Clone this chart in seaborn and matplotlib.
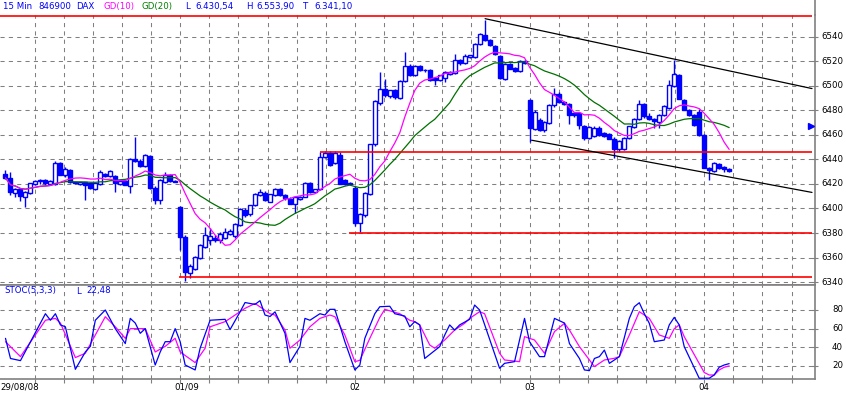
import numpy as np
import pandas as pd
import matplotlib
matplotlib.use("Agg")
import matplotlib.pyplot as plt
from matplotlib.lines import Line2D
import seaborn as sns

# ---------------- data (15-min DAX bars) ----------------
opens = [
    6428.5, 6425, 6413, 6415.5, 6409.5, 6413, 6420, 6422.5, 6423, 6420,
    6419.6, 6437.5, 6427.2, 6431.3, 6421.2, 6419.6, 6421.2, 6420.4, 6415.8, 6419.6,
    6428.5, 6426.6, 6426.4, 6419.6, 6422.6, 6418.5, 6440, 6438.9, 6434.5, 6442.7,
    6416.9, 6406.8, 6421.8, 6427.2, 6422.6,
    6401.3, 6377, 6347, 6351, 6360, 6368.7, 6374.2, 6376.3, 6374.7, 6376,
    6379, 6377.6, 6386.4, 6398.6, 6395.4, 6402.7, 6410.8, 6413, 6405.4, 6410.8,
    6415.5, 6410.8, 6408, 6403.5, 6408, 6409.5, 6420.9, 6413.6, 6415.5, 6442,
    6445.3, 6437, 6443.4, 6423, 6420.3,
    6417.1, 6388.3, 6394.5, 6412.2, 6452.4, 6486.0, 6497.2, 6491.5, 6496.4, 6490.4,
    6504.0, 6516.2, 6508.6, 6516.2, 6512.7, 6512.7, 6506.7, 6505.1, 6506.7, 6510.0,
    6510.5, 6520.8, 6518.6, 6523.5, 6523.5, 6533.8, 6541.2, 6537.1, 6532.2, 6524.1,
    6505.9, 6518.1, 6514.8, 6512.1, 6520.3,
    6488.3, 6465.2, 6472.5, 6463.8, 6469.8, 6484.2, 6493.1, 6486.9, 6485.5, 6477.9,
    6477.9, 6467.1, 6457.8, 6459.0, 6466.0, 6461.6, 6460.6, 6457.0, 6448.9, 6448.9,
    6457.8, 6466.5, 6473.3, 6485.5, 6475.2, 6473.3, 6470.6, 6476.0, 6482.3, 6499.7,
    6508.6, 6488.8, 6480.1, 6476.0, 6478.8,
    6459.7, 6433.4, 6430.7, 6436.1, 6433.9, 6431.8,
]
highs = [
    6431, 6430, 6417, 6417, 6414, 6421, 6423, 6424, 6424, 6423,
    6438.5, 6438, 6434, 6432, 6422, 6422, 6422, 6421, 6421, 6431,
    6429, 6431, 6427, 6423, 6423, 6441, 6458, 6440, 6444.5, 6444,
    6418, 6424, 6430, 6428, 6423,
    6402, 6378, 6355, 6361, 6371, 6385, 6384, 6378, 6381, 6384,
    6383.6, 6388, 6400, 6400, 6403, 6413, 6416, 6414, 6412, 6417,
    6417, 6412, 6409, 6409, 6410.5, 6421.5, 6422, 6416, 6446, 6447,
    6447, 6447, 6446, 6424, 6422,
    6418, 6396, 6413.5, 6453, 6488.5, 6511.3, 6505.9, 6497, 6497.5, 6505,
    6527.6, 6518, 6517, 6517, 6514, 6513.5, 6507.5, 6509, 6512, 6512,
    6526, 6522, 6526, 6525, 6535, 6543, 6553.9, 6538, 6533, 6525,
    6519, 6519, 6515.5, 6521, 6521,
    6489, 6480, 6474, 6471.5, 6485, 6498.6, 6495, 6488, 6486, 6478.5,
    6478.5, 6468, 6467.5, 6467, 6467, 6462.5, 6461.5, 6458, 6456, 6458.5,
    6467.5, 6474, 6488.3, 6486, 6478, 6474, 6477, 6484, 6504.6, 6521.4,
    6510, 6489.5, 6481, 6477, 6481.5,
    6460.5, 6434, 6438, 6437, 6434.5, 6433,
]
lows = [
    6424, 6411, 6409.5, 6406.5, 6401.5, 6412, 6419, 6420, 6419.5, 6419,
    6419, 6427, 6426, 6420.5, 6420, 6419, 6406.8, 6416, 6415, 6419,
    6425.5, 6426, 6413.6, 6419, 6419, 6413, 6438, 6434, 6434, 6416,
    6404, 6404, 6421, 6422, 6421.5,
    6366, 6341.1, 6343, 6350, 6359, 6368, 6370, 6373, 6372, 6375,
    6378, 6376, 6386, 6393, 6394, 6402, 6410, 6406, 6405, 6410,
    6410, 6407, 6403.5, 6396, 6407, 6409, 6413, 6413, 6415, 6441,
    6435, 6436, 6420, 6419.5, 6419.5,
    6386, 6380.5, 6393, 6411, 6451, 6484.5, 6491, 6490, 6489.5, 6489.5,
    6503, 6508, 6508, 6512, 6511, 6504, 6500.5, 6504, 6503, 6509,
    6510, 6517, 6518, 6522.5, 6523, 6533, 6537, 6532.5, 6525.5, 6506,
    6505, 6513.5, 6511.5, 6511.5, 6518,
    6454.3, 6464, 6463, 6462, 6469, 6483, 6486, 6484.5, 6468.7, 6475,
    6465, 6456, 6457, 6458, 6459, 6458.5, 6456.5, 6441.5, 6446, 6448,
    6457, 6466, 6472.5, 6474, 6472.5, 6466, 6466, 6475.5, 6481.5, 6499,
    6489, 6480, 6475.5, 6467.5, 6459,
    6433, 6423, 6430, 6432.5, 6430, 6430,
]
closes = [
    6425, 6413.6, 6416.3, 6410.3, 6413.6, 6420.4, 6422.5, 6423, 6420.4, 6422.6,
    6437.5, 6427.7, 6431.8, 6421.2, 6421, 6421.8, 6419.1, 6417.1, 6420.4, 6429.4,
    6426.4, 6430.7, 6420.4, 6422.6, 6419.1, 6440, 6438.9, 6434.5, 6443.5, 6416.9,
    6406.8, 6423.5, 6427.7, 6422.6, 6422,
    6377, 6348.4, 6353, 6360.6, 6370.6, 6378, 6377.4, 6374.2, 6379.6, 6381,
    6381.5, 6387.2, 6399.2, 6394.5, 6402.7, 6412.2, 6413.6, 6407, 6411.6, 6416.3,
    6410.8, 6408.5, 6404, 6409, 6409.5, 6420.9, 6413.6, 6415.5, 6442.1, 6445.3,
    6435.3, 6445, 6420.3, 6420.3, 6421,
    6388.3, 6395.3, 6412.7, 6452.4, 6487.4, 6497.2, 6492.3, 6496.4, 6491.0, 6504.0,
    6516.2, 6508.6, 6516.2, 6512.7, 6513.0, 6504.5, 6504.5, 6508.6, 6511.3, 6511.3,
    6521.4, 6518.6, 6524.1, 6524.9, 6534.4, 6542.5, 6537.6, 6533.0, 6526.2, 6506.7,
    6518.1, 6514.0, 6512.1, 6520.3, 6518.6,
    6466.0, 6478.8, 6464.4, 6470.6, 6484.2, 6493.7, 6486.9, 6485.0, 6476.6, 6476.0,
    6467.9, 6457.8, 6466.5, 6466.0, 6459.7, 6458.9, 6457.0, 6448.9, 6455.1, 6457.8,
    6467.1, 6473.3, 6485.5, 6475.2, 6473.3, 6471.4, 6476.0, 6483.4, 6500.5, 6509.4,
    6489.6, 6480.7, 6476.0, 6467.9, 6459.7,
    6433.4, 6431.2, 6437.2, 6433.4, 6431.8, 6430.54,
]

# Stochastic (5,3,3): vertices (bar, value)
stoch_k_bar = [0, 1, 3, 8, 9, 10, 11, 12, 13, 14, 16, 17, 18, 20, 22, 24, 25, 26, 27, 28,
               30, 31, 32, 33, 34, 35, 36, 38, 39, 41, 44, 45, 47, 48, 50, 51, 52, 53, 54, 56,
               57, 59, 60, 61, 63, 64, 65, 66, 68, 70, 71, 72, 74, 75, 77, 78, 80, 81, 82, 83,
               84, 87, 88, 89, 90, 91, 93, 94, 95, 99, 100, 102, 104, 105, 107, 108, 110, 112, 113, 115,
               116, 117, 118, 119, 120, 121, 123, 125, 126, 127, 128, 129, 130, 132, 133, 134, 135, 136, 139, 141,
               142, 143, 144, 145]
stoch_k_val = [49.6, 28, 25.7, 76, 69, 76, 64, 62, 39, 16.4, 35, 41, 69, 80, 60, 44, 71, 66, 55, 60,
               21, 35, 46, 46, 60, 46, 21, 15.7, 39, 69, 70, 59, 78, 88, 86, 90, 74.6, 73, 78, 55,
               23.6, 41, 71, 69, 76, 74.6, 80.7, 80.7, 46, 15.7, 21, 49.6, 76, 83.5, 84, 76, 73.5, 62, 67.5, 64,
               28, 40.7, 53, 64, 58.5, 64, 70, 85.3, 80, 17.5, 22.8, 24.6, 71, 46, 30, 30, 71, 66, 44, 28,
               15.7, 15, 28, 30, 37, 22.8, 30, 71, 83.5, 87.8, 76, 65.7, 46, 47.8, 64, 72.1, 64, 40.7, 6.8, 6.8,
               10.3, 18.6, 21, 22.48]
stoch_d_bar = [0, 3, 8, 10, 11, 14, 16, 20, 22, 24, 25, 28, 30, 32, 34, 35, 38, 40, 41, 44,
               45, 48, 50, 53, 54, 56, 57, 59, 61, 63, 65, 66, 68, 70, 71, 73, 75, 76, 79, 81,
               82, 83, 85, 86, 88, 90, 92, 93, 95, 96, 99, 100, 103, 104, 106, 108, 110, 112, 113, 115,
               118, 120, 122, 123, 125, 127, 129, 131, 133, 134, 135, 136, 140, 141, 142, 143, 144, 145]
stoch_d_val = [46, 30, 69, 71, 66, 29, 33.6, 72.8, 62, 49.6, 60, 60, 35, 41, 49.6, 35, 23.6, 39, 62, 67.5,
               71, 81.8, 87, 76, 74.6, 58.5, 39, 47.8, 62, 71, 74.6, 72.8, 53.2, 24.6, 26, 49.6, 72, 80.7, 76, 69,
               67.5, 64, 42.5, 39, 47.8, 58.5, 65.7, 71, 78.2, 76, 33.6, 26.4, 24.6, 51.4, 47.8, 33.6, 56.8, 65.7, 58.5, 40.7,
               19.3, 26.4, 28.2, 30, 53.2, 78.2, 71, 53.2, 49.6, 60, 64, 51.4, 13, 10.3, 10.3, 15.7, 18.6, 20]

day_labels = ["29/08/08", "01/09", "02", "03", "04"]
day_start_bar = [0, 35, 70, 105, 140]
bars_per_day = 35

price_ticks = [6340, 6360, 6380, 6400, 6420, 6440, 6460, 6480, 6500, 6520, 6540]
stoch_ticks = [20, 40, 60, 80]

# user drawn lines: (start bar, level)
hlines_red = [(-1.1, 6557.3), (63.0, 6445.9), (68.9, 6380.2), (34.8, 6344.5)]
trend_upper = [(96.1, 6554.8), (161.6, 6497.8)]
trend_lower = [(105.4, 6455.7), (161.6, 6413.1)]
marker_pt = (161.4, 6467.5)

# ---------------- derived indicators ----------------
df = pd.DataFrame({"bar": np.arange(len(closes)), "open": opens, "high": highs,
                   "low": lows, "close": closes})
df["gd10"] = df["close"].rolling(10, min_periods=1).mean()
df["gd20"] = df["close"].rolling(20, min_periods=1).mean()
kdf = pd.DataFrame({"bar": stoch_k_bar, "val": stoch_k_val})
ddf = pd.DataFrame({"bar": stoch_d_bar, "val": stoch_d_val})

# ---------------- figure ----------------
sns.set_style("white")
plt.rcParams["font.family"] = ["DejaVu Sans"]
W, H = 846, 397
fig = plt.figure(figsize=(W / 100, H / 100), dpi=100)
fig.patch.set_facecolor("white")

px_right = 815
ax = fig.add_axes([0, 1 - 285 / H, px_right / W, 270 / H])
ax2 = fig.add_axes([0, 1 - 379 / H, px_right / W, 94 / H])

XMIN, XMAX = -1.1, 162.2
GRAY = "#808080"
BLUE = "#0000ff"
grid_kw = dict(color=GRAY, lw=0.75, ls=(0, (4, 4)), zorder=0)

vgrid = [d * bars_per_day / 6 for d in range(1, 28)]

for a in (ax, ax2):
    a.set_xlim(XMIN, XMAX)
    a.set_facecolor("white")
    for xg in vgrid:
        a.axvline(xg, **grid_kw)
    a.spines["left"].set_visible(False)
    for s in ("right", "bottom", "top"):
        a.spines[s].set_color(GRAY)
        a.spines[s].set_linewidth(1.2)
    a.set_xticks([])
    a.tick_params(axis="y", which="both", left=False, right=True, labelleft=False,
                  labelright=False, direction="inout", length=5, color=GRAY, width=0.8)

ax.spines["top"].set_visible(False)
ax.set_ylim(6337.6, 6557.8)
ax.set_yticks(price_ticks)
for yv in price_ticks:
    ax.axhline(yv, **grid_kw)

ax2.set_ylim(6.0, 106.8)
ax2.set_yticks(stoch_ticks)
for yv in stoch_ticks:
    ax2.axhline(yv, **grid_kw)
ax2.set_xticks(vgrid)
ax2.tick_params(axis="x", which="both", bottom=True, labelbottom=False,
                direction="out", length=3, color=GRAY, width=0.8)

# ---------------- candles ----------------
bw = 0.8
for _, r in df.iterrows():
    x = r["bar"]
    ax.vlines(x, r["low"], r["high"], color=BLUE, lw=1.0, zorder=3)
    lo, hi = min(r["open"], r["close"]), max(r["open"], r["close"])
    hgt = max(hi - lo, 0.35)
    bear = r["close"] < r["open"]
    ax.bar(x, hgt, bottom=lo, width=bw, color=BLUE if bear else "white",
           edgecolor=BLUE, linewidth=1.0, zorder=4)

# moving averages
sns.lineplot(data=df, x="bar", y="gd20", ax=ax, color="#007000", lw=0.9, zorder=5,
             legend=False)
sns.lineplot(data=df, x="bar", y="gd10", ax=ax, color="#ff00ff", lw=0.9, zorder=6,
             legend=False)

# user lines
for x0, lvl in hlines_red:
    ax.plot([x0, 161.6], [lvl, lvl], color="#ff0000", lw=1.2, zorder=7, clip_on=False,
            solid_capstyle="butt")
for seg in (trend_upper, trend_lower):
    ax.plot([seg[0][0], seg[1][0]], [seg[0][1], seg[1][1]], color="black", lw=0.9,
            zorder=7)
ax.plot([marker_pt[0]], [marker_pt[1]], marker=">", color=BLUE, ms=4, zorder=8,
        clip_on=False)
ax.set_xlabel("")
ax.set_ylabel("")

# stochastic
sns.lineplot(data=ddf, x="bar", y="val", ax=ax2, color="#ff00ff", lw=0.9, zorder=5,
             legend=False)
sns.lineplot(data=kdf, x="bar", y="val", ax=ax2, color=BLUE, lw=0.9, zorder=6,
             legend=False)
ax2.set_xlabel("")
ax2.set_ylabel("")

# ---------------- texts ----------------
FS = 6.2
def ftext(xp, yp, s, color="black", ha="left", va="center"):
    fig.text(xp / W, 1 - yp / H, s, color=color, fontsize=FS, ha=ha, va=va)

for yv in price_ticks:
    disp = ax.transData.transform((0, yv))
    fig.text(843 / W, disp[1] / fig.bbox.height, str(yv), fontsize=FS, ha="right",
             va="center", color="black")
for yv in stoch_ticks:
    disp = ax2.transData.transform((0, yv))
    fig.text(843 / W, disp[1] / fig.bbox.height, str(yv), fontsize=FS, ha="right",
             va="center", color="black")

ftext(3, 6.5, "15 Min", BLUE)
ftext(38, 6.5, "846900", BLUE)
ftext(76, 6.5, "DAX", BLUE)
ftext(103, 6.5, "GD(10)", "#ff00ff")
ftext(142, 6.5, "GD(20)", "#008000")
ftext(185, 6.5, "L", BLUE)
ftext(195, 6.5, "6.430,54", BLUE)
ftext(246, 6.5, "H", BLUE)
ftext(256, 6.5, "6.553,90", BLUE)
ftext(303, 6.5, "T", BLUE)
ftext(314, 6.5, "6.341,10", BLUE)

ftext(4, 291, "STOC(5,3,3)", BLUE)
ftext(76, 291, "L", BLUE)
ftext(86, 291, "22,48", BLUE)

for lab, b in zip(day_labels, day_start_bar):
    xd = ax2.transData.transform((b - 1.1, 0))[0]
    fig.text(xd / W, 1 - 387 / H, lab, fontsize=FS, ha="left", va="center",
             color="black")

# right frame line above the main panel
fig.add_artist(Line2D([px_right / W, px_right / W], [1 - 15 / H, 1.0],
                      color=GRAY, lw=1.2, transform=fig.transFigure))

fig.savefig("out.png", dpi=100, facecolor="white")
